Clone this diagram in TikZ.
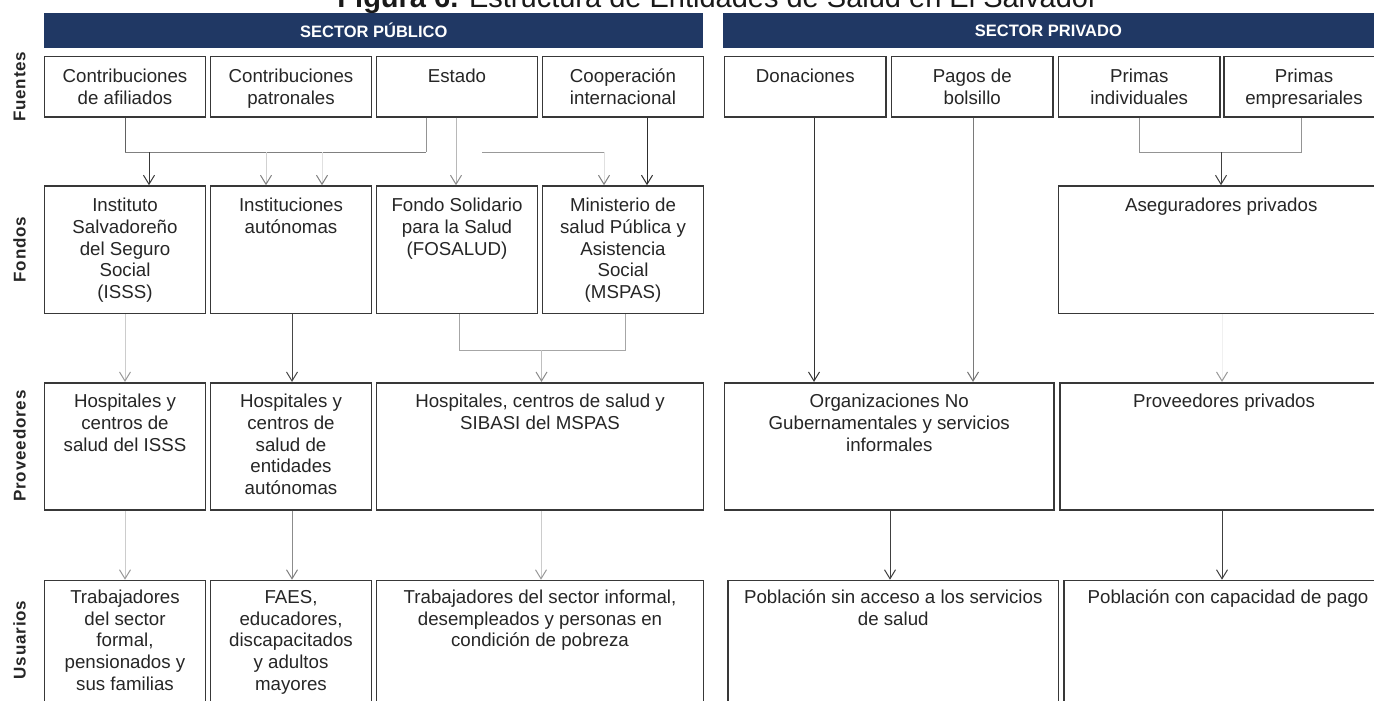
\documentclass[tikz,border=0pt]{standalone}
\usepackage{fontspec}
\setmainfont{Liberation Sans}
\newfontfamily\rowlabfont[LetterSpace=5]{Liberation Sans}
\usetikzlibrary{arrows.meta}
\definecolor{navy}{RGB}{32,56,100}
\newcommand{\mkcell}[7]{%
  \pgfmathsetmacro{\cellw}{#4-#2}%
  \pgfmathsetmacro{\cellh}{#5-#3}%
  \node[cellbox] (#1) at ({(#2+#4)/2},{(#3+#5)/2}) {\parbox[c][\cellh bp][t]{\cellw bp}{\centering\vspace*{#6bp}\strut #7\par}};%
}
\tikzset{
  cellbox/.style={draw=black!78, line width=1.6bp, fill=white, inner sep=0pt, text=black!85,
    font=\fontsize{18.7bp}{21.7bp}\selectfont},
  bar/.style={fill=navy, draw=none, inner sep=0pt, text=white,
    font=\fontsize{16.5bp}{20bp}\selectfont\bfseries},
  rowlab/.style={rotate=90, inner sep=0pt, text=black!85,
    font=\fontsize{17bp}{20bp}\selectfont\rowlabfont\bfseries},
  tip/.style={-{Straight Barb[length=9bp,width=11bp,line width=1bp,color=#1]}},
  cdark/.style={draw=black!78, line width=1bp},
  cmid/.style={draw=black!50, line width=1bp},
  clight/.style={draw=black!28, line width=1bp},
  cfaint/.style={draw=black!12, line width=1bp},
}
\begin{document}
\begin{tikzpicture}[x=1bp,y=-1bp]
\useasboundingbox (0,0) rectangle (1374,700);
\clip (0,0) rectangle (1374,700);
\fill[white] (0,0) rectangle (1374,700);

% title (cut at top, as in the reference)
\node[anchor=base east, inner sep=0pt, text=black!90, font=\fontsize{29bp}{34bp}\selectfont] (title) at (1098,7.5)
  {\textbf{Figura 6.} Estructura de Entidades de Salud en El Salvador};

% header bars
\node[bar, minimum width=658.5bp, minimum height=35.6bp] (pub) at (373.75,30.5) {SECTOR PÚBLICO};
\node[bar, minimum width=651.3bp, minimum height=35.6bp] (priv) at (1048.35,30.5) {SECTOR PRIVADO};

% row labels
\node[rowlab] (lf) at (19.5,86.7) {Fuentes};
\node[rowlab] (ld) at (19.5,249.5) {Fondos};
\node[rowlab] (lp) at (19.5,446) {Proveedores};
\node[rowlab] (lu) at (19.5,640) {Usuarios};

% Fuentes
\mkcell{f1}{44.5}{56.7}{205.5}{116.7}{10.8}{Contribuciones\\de afiliados}
\mkcell{f2}{210.5}{56.7}{371.5}{116.7}{10.8}{Contribuciones\\patronales}
\mkcell{f3}{376.5}{56.7}{537.5}{116.7}{10.8}{Estado}
\mkcell{f4}{542.5}{56.7}{703.5}{116.7}{10.8}{Cooperación\\internacional}
\mkcell{g1}{724.5}{56.7}{886}{116.7}{10.8}{Donaciones}
\mkcell{g2}{891.5}{56.7}{1053}{116.7}{10.8}{Pagos de\\bolsillo}
\mkcell{g3}{1058.5}{56.7}{1220}{116.7}{10.8}{Primas\\individuales}
\mkcell{g4}{1224}{56.7}{1384}{116.7}{10.8}{Primas\\empresariales}

% Fondos
\mkcell{d1}{44.5}{186}{205.5}{313.3}{10.5}{Instituto\\Salvadoreño\\del Seguro\\Social\\(ISSS)}
\mkcell{d2}{210.5}{186}{371.5}{313.3}{10.5}{Instituciones\\autónomas}
\mkcell{d3}{376.5}{186}{537.5}{313.3}{10.5}{Fondo Solidario\\para la Salud\\(FOSALUD)}
\mkcell{d4}{542.5}{186}{703.5}{313.3}{10.5}{Ministerio de\\salud Pública y\\Asistencia\\Social\\(MSPAS)}
\mkcell{h1}{1058.5}{186}{1384}{313.3}{10.5}{Aseguradores privados}

% Proveedores
\mkcell{p1}{44.5}{382.7}{205.5}{510}{9.8}{Hospitales y\\centros de\\salud del ISSS}
\mkcell{p2}{210.5}{382.7}{371.5}{510}{9.8}{Hospitales y\\centros de\\salud de\\entidades\\autónomas}
\mkcell{p3}{376.5}{382.7}{703.5}{510}{9.8}{Hospitales, centros de salud y\\SIBASI del MSPAS}
\mkcell{q1}{724.5}{382.7}{1054}{510}{9.8}{Organizaciones No\\Gubernamentales y servicios\\informales}
\mkcell{q2}{1060}{382.7}{1388}{510}{9.8}{Proveedores privados}

% Usuarios
\mkcell{u1}{44.5}{580.5}{205.5}{708}{7.8}{Trabajadores\\del sector\\formal,\\pensionados y\\sus familias}
\mkcell{u2}{210.5}{580.5}{371.5}{708}{7.8}{FAES,\\educadores,\\discapacitados\\y adultos\\mayores}
\mkcell{u3}{376.5}{580.5}{703.5}{708}{7.8}{Trabajadores del sector informal,\\desempleados y personas en\\condición de pobreza}
\mkcell{r1}{728}{580.5}{1058.5}{708}{7.8}{Población sin acceso a los servicios\\de salud}
\mkcell{r2}{1064}{580.5}{1392}{708}{7.8}{Población con capacidad de pago}

% ---------- connectors: public, Fuentes -> Fondos
\coordinate (jA) at (125,152);
\coordinate (jB) at (426,152);
\coordinate (aI) at (149,152);
\coordinate (aA1) at (266,152);
\coordinate (aA2) at (322,152);
\coordinate (hL) at (482,152);
\coordinate (hR) at (604,152);
\coordinate (xE) at (456,152);
\coordinate (xC) at (647,152);
\draw[cmid, draw=black!62] (f1.south) -- (jA);
\draw[cmid] (jA) -- (jB);
\draw[cmid, draw=black!42] (jB |- f3.south) -- (jB);
\draw[cdark, tip=black!78] (aI) -- (aI |- d1.north);
\draw[cfaint, draw=black!18, tip=black!50] (aA1) -- (aA1 |- d2.north);
\draw[cfaint, tip=black!50] (aA2) -- (aA2 |- d2.north);
\draw[clight, tip=black!45] (xE |- f3.south) -- (xE |- d3.north);
\draw[cmid, draw=black!40] (hL) -- (hR);
\draw[cfaint, tip=black!50] (hR) -- (hR |- d4.north);
\draw[cdark, draw=black!82, tip=black!82] (xC |- f4.south) -- (xC |- d4.north);

% Fondos -> Proveedores
\coordinate (bL) at (459,350);
\coordinate (bR) at (625,350);
\coordinate (bM) at (541.5,350);
\coordinate (xA) at (292,350);
\draw[clight, draw=black!20, tip=black!40] (d1.south) -- (p1.north);
\draw[cdark, draw=black!72, tip=black!72] (xA |- d2.south) -- (xA |- p2.north);
\draw[clight, draw=black!35] (bL |- d3.south) -- (bL) -- (bR) -- (bR |- d4.south);
\draw[clight, draw=black!25, tip=black!45] (bM) -- (bM |- p3.north);

% Proveedores -> Usuarios
\coordinate (xB) at (541,545);
\draw[clight, draw=black!20, tip=black!40] (p1.south) -- (p1.south |- u1.north);
\draw[cmid, draw=black!45, tip=black!50] (xA |- p2.south) -- (xA |- u2.north);
\draw[clight, draw=black!20, tip=black!40] (xB |- p3.south) -- (xB |- u3.north);

% ---------- private
\coordinate (xD) at (814,200);
\coordinate (xP) at (973,200);
\coordinate (pL) at (1139,152);
\coordinate (pR) at (1301,152);
\coordinate (pM) at (1221,152);
\coordinate (xQ) at (1222,350);
\coordinate (xO) at (890,545);
\draw[cdark, draw=black!80, tip=black!80] (xD |- g1.south) -- (xD |- q1.north);
\draw[cmid, draw=black!52, tip=black!55] (xP |- g2.south) -- (xP |- q1.north);
\draw[cmid, draw=black!42] (pL |- g3.south) -- (pL) -- (pR) -- (pR |- g4.south);
\draw[cdark, draw=black!75, tip=black!75] (pM) -- (pM |- h1.north);
\draw[cfaint, draw=black!6, tip=black!40] (xQ |- h1.south) -- (xQ |- q2.north);
\draw[cdark, draw=black!75, tip=black!75] (xO |- q1.south) -- (xO |- r1.north);
\draw[cdark, draw=black!75, tip=black!75] (xQ |- q2.south) -- (xQ |- r2.north);
\end{tikzpicture}
\end{document}
